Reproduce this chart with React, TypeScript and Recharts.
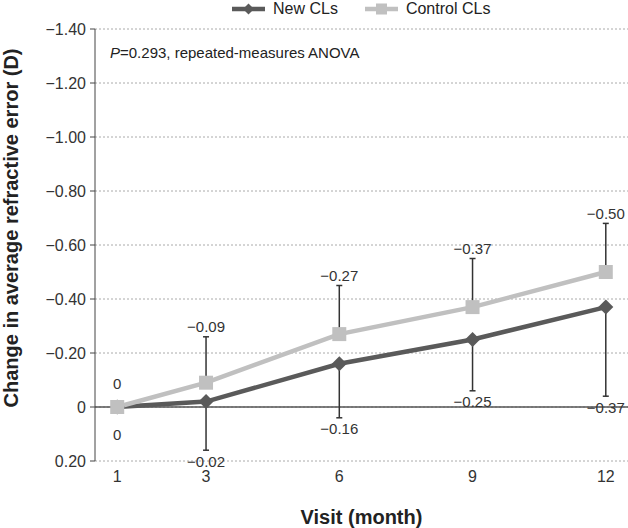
import { CartesianGrid, ErrorBar, LabelList, Legend, Line, LineChart, ReferenceLine, XAxis, YAxis } from "recharts"

const FONT = '"Liberation Sans", Arial, sans-serif'

// visit months and mean change in refractive error (D)
const months = [1, 3, 6, 9, 12]
const newCLs = [0, -0.02, -0.16, -0.25, -0.37]
const newSD = [0, 0.18, 0.2, 0.19, 0.33]
const controlCLs = [0, -0.09, -0.27, -0.37, -0.5]
const controlSD = [0, 0.17, 0.18, 0.18, 0.18]

const xTicks = [1, 3, 6, 9, 12]
const yTicks = [-1.4, -1.2, -1.0, -0.8, -0.6, -0.4, -0.2, 0, 0.2]

const NEW_COLOR = "#5a5a5a"
const CONTROL_COLOR = "#c0c0c0"

const data = months.map((m, i) => ({
  month: m,
  newCLs: newCLs[i],
  newErr: [0, newSD[i]],
  newEnd: newCLs[i] + newSD[i],
  control: controlCLs[i],
  controlErr: [controlSD[i], 0],
  controlEnd: controlCLs[i] - controlSD[i],
  newLabel: newCLs[i],
  controlLabel: controlCLs[i],
}))

const fmt = (v: number) => (v === 0 ? "0" : v.toFixed(2).replace("-", "\u2212"))

const Diamond = (props: any) => {
  const { cx, cy, index } = props
  if (cx == null || cy == null) return <g key={index} />
  const r = 7.5
  return (
    <polygon
      key={index}
      points={`${cx},${cy - r} ${cx + r},${cy} ${cx},${cy + r} ${cx - r},${cy}`}
      fill={NEW_COLOR}
    />
  )
}

const Square = (props: any) => {
  const { cx, cy, index } = props
  if (cx == null || cy == null) return <g key={index} />
  const s = 14
  return <rect key={index} x={cx - s / 2} y={cy - s / 2} width={s} height={s} fill={CONTROL_COLOR} />
}

// value labels sit at the end of each error bar
const endLabel = (side: "top" | "bottom") => (props: any) => {
  const x = props.x ?? props.viewBox?.x
  const y = props.y ?? props.viewBox?.y
  const v = Number(props.value)
  const shift = v === 0 ? (side === "top" ? 24 : 27) : side === "top" ? 10 : 11
  return (
    <text
      x={x}
      y={side === "top" ? y - shift : y + shift}
      textAnchor="middle"
      dominantBaseline="central"
      fontSize={15}
      fill="#333"
    >
      {fmt(v)}
    </text>
  )
}

const YTitle = (props: any) => {
  const vb = props.viewBox || { x: 0, y: 29, width: 95, height: 432 }
  const x = vb.x + 11
  const y = vb.y + vb.height / 2 - 17
  return (
    <text
      x={x}
      y={y}
      transform={`rotate(-90 ${x} ${y})`}
      textAnchor="middle"
      dominantBaseline="central"
      fontSize={20}
      fontWeight="bold"
      fill="#222"
    >
      Change in average refractive error (D)
    </text>
  )
}

const LegendIcon = ({ color, shape }: { color: string; shape: "diamond" | "square" }) => (
  <svg width={33} height={14} style={{ display: "block" }}>
    <line x1={0} y1={7} x2={33} y2={7} stroke={color} strokeWidth={4.5} />
    {shape === "diamond" ? (
      <polygon points="16.5,1.5 22,7 16.5,12.5 11,7" fill={color} />
    ) : (
      <rect x={11} y={1.5} width={11} height={11} fill={color} />
    )}
  </svg>
)

const renderLegend = () => (
  <div style={{ display: "flex", alignItems: "center", fontSize: 16, lineHeight: "18px", color: "#222" }}>
    <LegendIcon color={NEW_COLOR} shape="diamond" />
    <span style={{ marginLeft: 8 }}>New CLs</span>
    <span style={{ marginLeft: 27 }}>
      <LegendIcon color={CONTROL_COLOR} shape="square" />
    </span>
    <span style={{ marginLeft: 8 }}>Control CLs</span>
  </div>
)

export default function App() {
  return (
    <div style={{ position: "absolute", left: 0, top: 0, width: 628, height: 528, fontFamily: FONT, background: "#fff" }}>
      <LineChart width={628} height={528} data={data} margin={{ top: 29, right: 0, bottom: 37, left: 0 }}>
        <CartesianGrid vertical={false} stroke="#aaa" strokeDasharray="2 2" />
        <XAxis
          dataKey="month"
          type="number"
          domain={[0.5, 12.5]}
          ticks={xTicks}
          height={30}
          axisLine={false}
          tickLine={false}
          tickMargin={4}
          tick={{ fontSize: 16, fill: "#333" }}
          label={{
            value: "Visit (month)",
            position: "bottom",
            offset: 19,
            style: { fontSize: 20, fontWeight: "bold", fill: "#222" },
          }}
        />
        <YAxis
          type="number"
          domain={[-1.4, 0.2]}
          ticks={yTicks}
          reversed
          width={95}
          stroke="#444"
          tickSize={5}
          tickMargin={4}
          tick={{ fontSize: 16, fill: "#333" }}
          tickFormatter={fmt}
          label={<YTitle />}
        />
        <ReferenceLine y={0} stroke="#555" strokeWidth={1.5} />
        <Legend verticalAlign="middle" content={renderLegend} wrapperStyle={{ top: 0, left: 232, width: 320 }} />
        <Line
          dataKey="newCLs"
          name="New CLs"
          stroke={NEW_COLOR}
          strokeWidth={4.5}
          dot={Diamond}
          activeDot={false}
          isAnimationActive={false}
        >
          <ErrorBar dataKey="newErr" direction="y" width={3} stroke="#333" strokeWidth={1.5} />
        </Line>
        <Line
          dataKey="control"
          name="Control CLs"
          stroke={CONTROL_COLOR}
          strokeWidth={4.5}
          dot={Square}
          activeDot={false}
          isAnimationActive={false}
        >
          <ErrorBar dataKey="controlErr" direction="y" width={3} stroke="#333" strokeWidth={1.5} />
        </Line>
        <Line dataKey="newEnd" stroke="none" dot={false} activeDot={false} legendType="none" isAnimationActive={false}>
          <LabelList dataKey="newLabel" content={endLabel("bottom")} />
        </Line>
        <Line dataKey="controlEnd" stroke="none" dot={false} activeDot={false} legendType="none" isAnimationActive={false}>
          <LabelList dataKey="controlLabel" content={endLabel("top")} />
        </Line>
      </LineChart>
      <div style={{ position: "absolute", left: 110, top: 44, fontSize: 15, lineHeight: "18px", color: "#222" }}>
        <i>P</i>=0.293, repeated-measures ANOVA
      </div>
    </div>
  )
}
